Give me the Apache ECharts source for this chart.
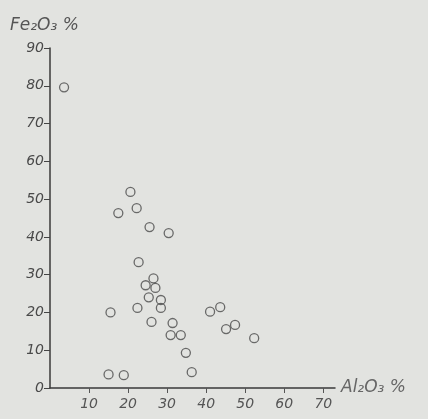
<!DOCTYPE html>
<html><head><meta charset="utf-8">
<script src="https://cdn.jsdelivr.net/npm/echarts@6/dist/echarts.min.js"></script>
<style>html,body{margin:0;padding:0;background:#e2e3e0;}#c{width:428px;height:419px;}</style>
</head><body><div id="c"></div>
<script>
// Al2O3 % (x) vs Fe2O3 % (y)
const al2o3 = [3.6, 20.6, 17.5, 22.2, 25.5, 30.4, 22.7, 26.5, 24.5, 27.0, 25.3, 28.4, 28.4, 22.4, 15.5, 31.4, 30.9, 33.5, 34.8, 36.3, 41.0, 43.6, 45.1, 47.4, 52.3, 15.0, 18.9, 26.0];
const fe2o3 = [79.6, 51.9, 46.3, 47.6, 42.6, 41.0, 33.3, 29.0, 27.2, 26.5, 24.0, 23.3, 21.2, 21.2, 20.0, 17.2, 14.0, 14.0, 9.3, 4.2, 20.2, 21.4, 15.6, 16.7, 13.2, 3.6, 3.4, 17.5];
const xTicks = [10, 20, 30, 40, 50, 60, 70];
const yTicks = [0, 10, 20, 30, 40, 50, 60, 70, 80, 90];

const points = al2o3.map((x, i) => [x, fe2o3[i]]);
const chart = echarts.init(document.getElementById('c'));
const font = 'DejaVu Sans';
chart.setOption({
  backgroundColor: '#e2e3e0',
  grid: {left: 50, right: 93, top: 48, bottom: 31, containLabel: false},
  xAxis: {
    type: 'value', min: 0, max: 73, interval: 10,
    splitLine: {show: false},
    axisLine: {lineStyle: {color: '#3a3a3a', width: 1.5}},
    axisTick: {length: 5, customValues: xTicks, lineStyle: {color: '#555'}},
    axisLabel: {customValues: xTicks, margin: 9, color: '#555', fontFamily: font, fontStyle: 'italic', fontSize: 14},
    name: 'Al₂O₃ %', nameLocation: 'end', nameGap: 6,
    nameTextStyle: {color: '#666', fontFamily: font, fontStyle: 'italic', fontSize: 17, align: 'left', padding: [0, 0, 0, 0]}
  },
  yAxis: {
    type: 'value', min: 0, max: 90, interval: 10,
    splitLine: {show: false},
    axisLine: {lineStyle: {color: '#3a3a3a', width: 1.5}},
    axisTick: {length: 6, customValues: yTicks, lineStyle: {color: '#444'}},
    axisLabel: {customValues: yTicks, margin: 6, color: '#4a4a4a', fontFamily: font, fontStyle: 'italic', fontSize: 14},
    name: 'Fe₂O₃ %', nameLocation: 'end', nameGap: 14,
    nameTextStyle: {color: '#555', fontFamily: font, fontStyle: 'italic', fontSize: 17, align: 'left', padding: [0, 0, 0, -40]}
  },
  series: [{
    type: 'scatter', data: points, symbol: 'circle', symbolSize: 9,
    itemStyle: {color: 'rgba(0,0,0,0)', borderColor: '#4a4a4a', borderWidth: 1.3}
  }]
});
</script></body></html>
